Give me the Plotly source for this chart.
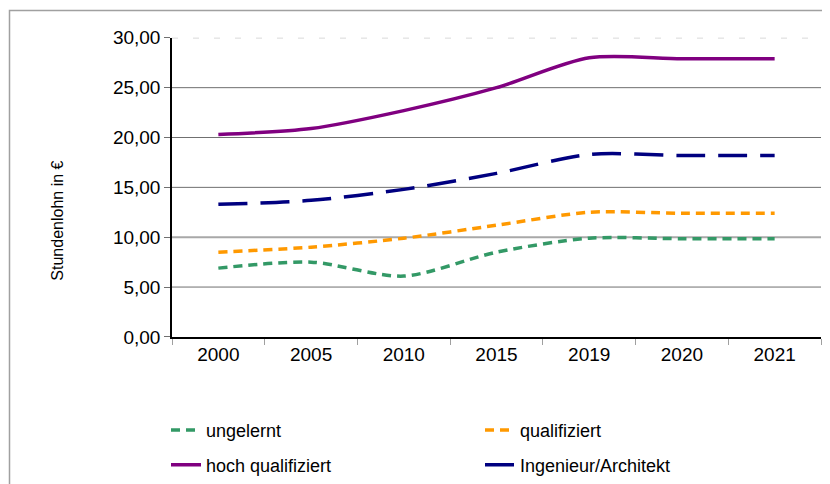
import plotly.graph_objects as go

# Daten
jahre = ["2000", "2005", "2010", "2015", "2019", "2020", "2021"]
ungelernt = [6.9, 7.5, 6.1, 8.5, 9.9, 9.85, 9.85]
qualifiziert = [8.5, 9.0, 9.9, 11.2, 12.5, 12.4, 12.4]
hoch_qualifiziert = [20.3, 20.9, 22.7, 25.0, 28.0, 27.9, 27.9]
ingenieur = [13.3, 13.7, 14.8, 16.4, 18.3, 18.2, 18.2]

gitter_dunkel = [5, 15, 20, 25]
gitter_hell = [10]
gitter_oben = [30]

W, H = 822, 476

fig = go.Figure()

serien = [
    ("ungelernt", ungelernt, "#339966", "9px,6px", "legend"),
    ("qualifiziert", qualifiziert, "#FF9900", "9px,6px", "legend"),
    ("hoch qualifiziert", hoch_qualifiziert, "#800080", "solid", "legend2"),
    ("Ingenieur/Architekt", ingenieur, "#000080", "29px,13px", "legend2"),
]
for name, werte, farbe, dash, leg in serien:
    fig.add_trace(go.Scatter(
        x=jahre,
        y=werte,
        mode="lines",
        name=name,
        line={'color': farbe, 'width': 3.5, 'dash': dash, 'shape': 'spline', 'smoothing': 0.8},
        legend=leg,
    ))

# Gitterlinien
x0, x1 = 164 / W, 813 / W
for y in gitter_dunkel:
    fig.add_shape(type="line", xref="paper", yref="y", x0=x0, x1=x1, y0=y, y1=y,
                  line={'color': '#707070', 'width': 1}, layer="below")
for y in gitter_hell:
    fig.add_shape(type="line", xref="paper", yref="y", x0=x0, x1=x1, y0=y, y1=y,
                  line={'color': '#A8A8A8', 'width': 2}, layer="below")
for y in gitter_oben:
    fig.add_shape(type="line", xref="paper", yref="y", x0=x0, x1=x1, y0=y, y1=y,
                  line={'color': '#B0B0B0', 'width': 1, 'dash': '6px,15px'}, layer="below")

# Rahmen
fig.add_shape(type="rect", xref="paper", yref="paper", x0=1.5 / W, x1=1.05, y0=-0.05, y1=(H - 2.5) / H,
              line={'color': '#A0A0A0', 'width': 1.5})

fig.update_xaxes(
    type="category",
    range=[-0.5, 6.5],
    domain=[x0, x1],
    showline=True, linecolor="black", linewidth=1.5,
    ticks="outside", tickson="boundaries", ticklen=6, tickcolor="#A0A0A0",
    showgrid=False, automargin=False,
    tickfont={'size': 19, 'color': 'black'},
)
fig.update_yaxes(
    range=[0, 30],
    dtick=5,
    domain=[(H - 331) / H, (H - 30) / H],
    tickformat=".2f",
    showline=True, linecolor="black", linewidth=1.5,
    ticks="outside", ticklen=6, tickcolor="#707070",
    showgrid=False, zeroline=False, automargin=False,
    tickfont={'size': 19, 'color': 'black'},
)

fig.add_annotation(text="Stundenlohn in €", textangle=-90, xref="paper", yref="paper",
                   x=50 / W, y=(H - 214) / H, xanchor="center", yanchor="middle",
                   showarrow=False, font={'size': 16, 'color': 'black'})

legende = dict(orientation="h", xanchor="left", yanchor="middle",
               font={'size': 18, 'color': 'black'}, entrywidth=269, entrywidthmode="pixels",
               bgcolor="rgba(0,0,0,0)")

fig.update_layout(
    width=W, height=H,
    margin={'l': 0, 'r': 0, 't': 0, 'b': 0},
    paper_bgcolor="white", plot_bgcolor="white",
    font={'family': "Liberation Sans, Arial, sans-serif"},
    separators=",.",
    legend=dict(legende, x=158 / W, y=(H - 425) / H),
    legend2=dict(legende, x=158 / W, y=(H - 460) / H),
)

fig.write_html("out.html")
